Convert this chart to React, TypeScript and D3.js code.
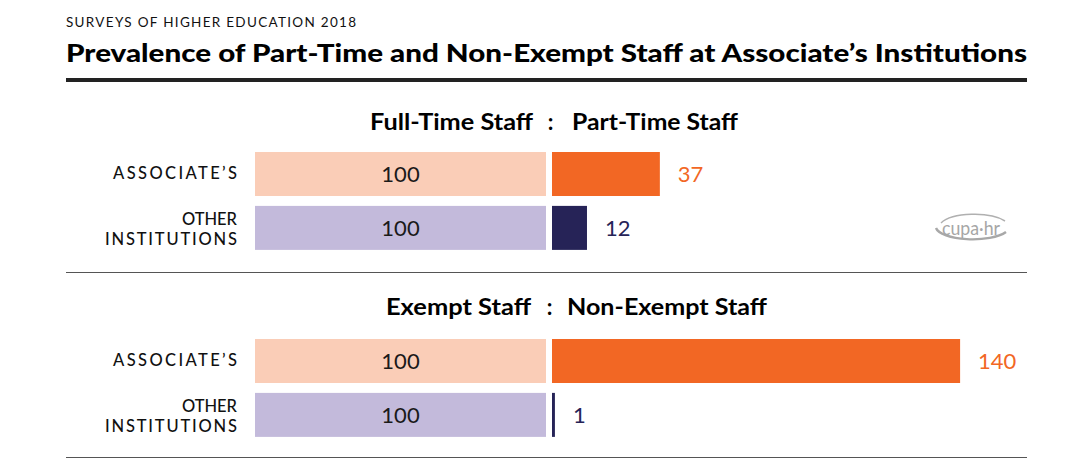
import React from "react";
import * as d3 from "d3";

const headingLeft = ["Full-Time Staff", "Exempt Staff"];
const headingRight = ["Part-Time Staff", "Non-Exempt Staff"];
const categories = ["ASSOCIATE’S", "OTHER INSTITUTIONS"];
const baseValues = [[100, 100], [100, 100]];
const compareValues = [[37, 12], [140, 1]];

const W = 1089, H = 463;
const lightColors = ["#FACDB7", "#C3BADB"];
const darkColors = ["#F26724", "#262357"];
const font = "Lato, 'Open Sans', sans-serif";

const headLeftLen = [163, 145];
const headRightLen = [166, 200];
const headLeftEnd = [533, 531];
const headColon = [550.5, 549.5];
const headRightStart = [572, 567];
const labelLens: Record<string, number> = { "ASSOCIATE’S": 124, OTHER: 55, INSTITUTIONS: 132 };

export default function App() {
  const left = d3.scaleLinear().domain([0, 100]).range([546, 255]);
  const right = d3.scaleLinear().domain([0, 100]).range([552, 552 + 291.5]);
  const sectionTop = [100, 287];
  const headingY = [130, 315];
  const band = d3.scaleBand<number>().domain([0, 1]).range([0, 97]).paddingInner(0.2);
  return (
    <svg width={W} height={H} style={{ position: "absolute", left: 0, top: 0, background: "#fff" }}>
      <text x={66} y={27} fontFamily={font} fontSize={13.5} letterSpacing={1.3} fill="#111">SURVEYS OF HIGHER EDUCATION 2018</text>
      <text x={66} y={62} fontFamily={font} fontWeight={900} fontSize={24.5} fill="#000" textLength={961} lengthAdjust="spacingAndGlyphs">Prevalence of Part-Time and Non-Exempt Staff at Associate’s Institutions</text>
      <rect x={66} y={78} width={961} height={4} fill="#222" />
      {headingLeft.map((hl, si) => {
        const top = sectionTop[si];
        const barTop = top + 52;
        return (
          <g key={si}>
            <text x={headLeftEnd[si]} y={headingY[si]} textAnchor="end" fontFamily={font} fontWeight={700} fontSize={22} fill="#000" textLength={headLeftLen[si]} lengthAdjust="spacingAndGlyphs">{hl}</text>
            <text x={headColon[si]} y={headingY[si]} textAnchor="middle" fontFamily={font} fontWeight={700} fontSize={22} fill="#000">:</text>
            <text x={headRightStart[si]} y={headingY[si]} fontFamily={font} fontWeight={700} fontSize={22} fill="#000" textLength={headRightLen[si]} lengthAdjust="spacingAndGlyphs">{headingRight[si]}</text>
            {categories.map((c, ci) => {
              const y = barTop + (band(ci) as number);
              const h = 44;
              const bv = baseValues[si][ci];
              const cv = compareValues[si][ci];
              const rw = Math.max(right(cv) - right(0), 2.5);
              const labelLines = c.split(" ");
              return (
                <g key={ci}>
                  <rect x={left(bv)} y={y} width={left(0) - left(bv)} height={h} fill={lightColors[ci]} />
                  <text x={(left(bv) + left(0)) / 2} y={y + h / 2 + 8} textAnchor="middle" fontFamily={font} fontWeight={400} fontSize={22} fill="#1a1a1a">{bv}</text>
                  <rect x={right(0)} y={y} width={rw} height={h} fill={darkColors[ci]} />
                  <text x={right(0) + rw + 18} y={y + h / 2 + 8} fontFamily={font} fontWeight={400} fontSize={22} fill={darkColors[ci]}>{cv}</text>
                  {labelLines.map((l, li) => (
                    <text key={li} x={237} y={labelLines.length === 2 ? y + h / 2 - 3 + li * 20 : y + h / 2 + 5} textAnchor="end" fontFamily={font} fontWeight={500} fontSize={16.5} fill="#111" textLength={labelLens[l]} lengthAdjust="spacing">{l}</text>
                  ))}
                </g>
              );
            })}
          </g>
        );
      })}
      <line x1={66} x2={1027} y1={272.5} y2={272.5} stroke="#555" strokeWidth={1} />
      <line x1={66} x2={1027} y1={457.5} y2={457.5} stroke="#555" strokeWidth={1} />
      <g transform="translate(971,229)">
        <path d="M-30,-6 A36,14 0 0 1 34,-8" fill="none" stroke="#b0b0b0" strokeWidth={1.5} />
        <path d="M-35,-1 A37,13 0 0 0 35,3" fill="none" stroke="#a8a8a8" strokeWidth={2.4} />
        <text x={0} y={6} textAnchor="middle" fontFamily={font} fontSize={19} fill="#a6a6a6" textLength={58} lengthAdjust="spacingAndGlyphs">cupa·hr</text>
      </g>
    </svg>
  );
}
